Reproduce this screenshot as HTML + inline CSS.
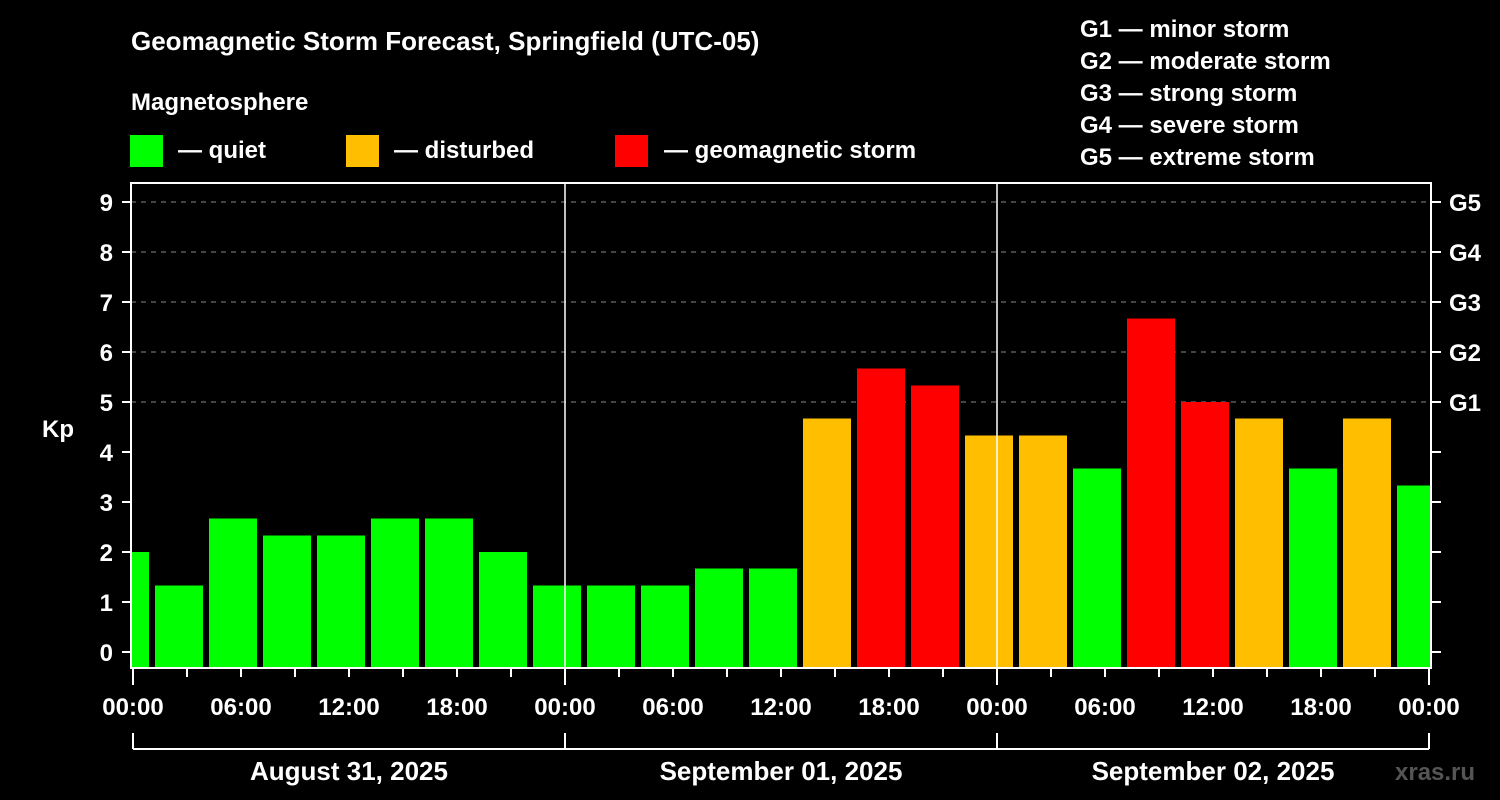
<!DOCTYPE html>
<html><head><meta charset="utf-8"><style>
html,body{margin:0;padding:0;background:#000;width:1500px;height:800px;overflow:hidden}
svg text{font-family:"Liberation Sans",sans-serif;font-weight:bold;fill:#fff}
</style></head><body>
<svg id="c" width="1500" height="800" xmlns="http://www.w3.org/2000/svg">
<text x="131" y="50" font-size="26">Geomagnetic Storm Forecast, Springfield (UTC-05)</text>
<text x="131" y="110" font-size="24">Magnetosphere</text>
<g><rect x="130" y="135" width="33" height="32" fill="#00ff00"/><text x="178" y="158" font-size="24">— quiet</text></g>
<g><rect x="346" y="135" width="33" height="32" fill="#ffbf00"/><text x="394" y="158" font-size="24">— disturbed</text></g>
<g><rect x="615" y="135" width="33" height="32" fill="#ff0000"/><text x="664" y="158" font-size="24">— geomagnetic storm</text></g>
<g font-size="24">
<text x="1080" y="37">G1 — minor storm</text>
<text x="1080" y="69">G2 — moderate storm</text>
<text x="1080" y="101">G3 — strong storm</text>
<text x="1080" y="133">G4 — severe storm</text>
<text x="1080" y="165">G5 — extreme storm</text>
</g>
<text x="42" y="437" font-size="24">Kp</text>
<g id="plot"></g>
<text x="1395" y="780" font-size="24" fill="#555" style="fill:#555">xras.ru</text>
</svg>
<script>
const binStartHours = [-2,1,4,7,10,13,16,19,22,25,28,31,34,37,40,43,46,49,52,55,58,61,64,67,70];
const kpValues = [2.0,1.33,2.67,2.33,2.33,2.67,2.67,2.0,1.33,1.33,1.33,1.67,1.67,4.67,5.67,5.33,4.33,4.33,3.67,6.67,5.0,4.67,3.67,4.67,3.33];
const yTicks = [0,1,2,3,4,5,6,7,8,9];
const gLabels = ["G1","G2","G3","G4","G5"];
const xTickLabels = ["00:00","06:00","12:00","18:00","00:00","06:00","12:00","18:00","00:00","06:00","12:00","18:00","00:00"];
const dateLabels = ["August 31, 2025","September 01, 2025","September 02, 2025"];

const NS="http://www.w3.org/2000/svg";
const X0=133, PXH=18, Y0=652, PXK=50, L=131, R=1431, T=183, B=668;
const x=h=>X0+h*PXH, y=k=>Y0-k*PXK;
const g=document.getElementById('plot');
function mk(tag,a,parent){const e=document.createElementNS(NS,tag);for(const k in a)e.setAttribute(k,a[k]);(parent||g).appendChild(e);return e;}
const clip=mk('clipPath',{id:'pc'});mk('rect',{x:L+1,y:T,width:R-L-2,height:B-T},clip);
// grid
yTicks.forEach(k=>{
  if(k>=5){const l=mk('line',{x1:L,x2:R,y1:y(k),y2:y(k),stroke:'#888','stroke-dasharray':'5,5','stroke-width':1});
  
  }
});
// bars
const bars=mk('g',{'clip-path':'url(#pc)'});
kpValues.forEach((v,i)=>{
  const col=v>=5?'#ff0000':(v>=4?'#ffbf00':'#00ff00');
  const r=mk('rect',{x:x(binStartHours[i])+4,y:y(v),width:48,height:B-y(v),fill:col},bars);
  
  
});
// day separators
[24,48].forEach(h=>{const l=mk('line',{x1:x(h),x2:x(h),y1:T,y2:B,stroke:'#fff','stroke-width':1.5});

});
// frame
const f=mk('rect',{x:L,y:T,width:R-L,height:B-T,fill:'none',stroke:'#fff','stroke-width':2});


// y ticks
yTicks.forEach(k=>{
  mk('line',{x1:L-9,x2:L,y1:y(k),y2:y(k),stroke:'#fff','stroke-width':2});
  mk('line',{x1:R,x2:R+10,y1:y(k),y2:y(k),stroke:'#fff','stroke-width':2});
  const t=mk('text',{x:L-18,y:y(k)+9,'text-anchor':'end','font-size':24});t.textContent=k;
  
  
  if(k>=5){const gt=mk('text',{x:1449,y:y(k)+9,'font-size':24});gt.textContent=gLabels[k-5];
  
  }
});
// x ticks
for(let h=0;h<=72;h+=3){const major=h%24===0;mk('line',{x1:x(h),x2:x(h),y1:B,y2:B+(major?17:9),stroke:'#fff','stroke-width':2});}
xTickLabels.forEach((s,i)=>{const t=mk('text',{x:x(i*6),y:715,'text-anchor':'middle','font-size':24});t.textContent=s;

});
// date bracket
mk('line',{x1:x(0),x2:x(72),y1:749,y2:749,stroke:'#fff','stroke-width':2});
[0,24,48,72].forEach(h=>mk('line',{x1:x(h),x2:x(h),y1:733,y2:749,stroke:'#fff','stroke-width':2}));
dateLabels.forEach((s,i)=>{const t=mk('text',{x:x(i*24+12),y:780,'text-anchor':'middle','font-size':26});t.textContent=s;

});
</script>
</body></html>
